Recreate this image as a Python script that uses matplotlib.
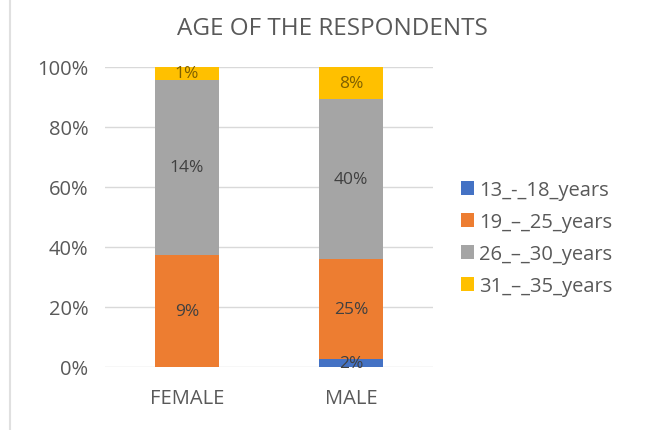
import numpy as np
import matplotlib.pyplot as plt
from matplotlib.lines import Line2D

# respondents by gender and age group (% of all respondents)
genders = ['FEMALE', 'MALE']
age_groups = ['13_-_18_years', '19_–_25_years', '26_–_30_years', '31_–_35_years']
age_13_18 = [0, 2]
age_19_25 = [9, 25]
age_26_30 = [14, 40]
age_31_35 = [1, 8]

colors = ['#4472C4', '#ED7D31', '#A5A5A5', '#FFC000']
label_colors = ['#404040', '#404040', '#404040', '#7F6000']
txt = '#595959'

plt.rcParams['font.family'] = ['Open Sans', 'DejaVu Sans']

series = np.array([age_13_18, age_19_25, age_26_30, age_31_35], dtype=float)
totals = series.sum(axis=0)
shares = series / totals * 100

fig = plt.figure(figsize=(6.48, 4.31), dpi=100)
ax = fig.add_axes([105/648, 1 - 368/431, 328/648, 300/431])

x = np.arange(len(genders))
bottom = np.zeros(len(genders))
for i, name in enumerate(age_groups):
    ax.bar(x, shares[i], 0.39, bottom=bottom, color=colors[i], label=name, zorder=2)
    for j in range(len(genders)):
        if series[i, j] > 0:
            ax.text(x[j], bottom[j] + shares[i, j] / 2, f'{series[i, j]:.0f}%',
                    ha='center', va='center', fontsize=12.5, color=label_colors[i], zorder=3)
    bottom += shares[i]

ax.set_xlim(-0.5, 1.5)
ax.set_ylim(0, 100)
ax.set_yticks(range(0, 101, 20))
ax.set_yticklabels([f'{v}%' for v in range(0, 101, 20)])
ax.set_xticks(x)
ax.set_xticklabels(genders)
ax.yaxis.grid(True, color='#D9D9D9', linewidth=1, zorder=0)
for s in ax.spines.values():
    s.set_visible(False)
ax.tick_params(axis='both', length=0, labelsize=14.5, colors=txt)
ax.tick_params(axis='y', pad=12)
ax.tick_params(axis='x', pad=15)

fig.text(332/648, 1 - 29/431, 'AGE OF THE RESPONDENTS', ha='center', va='center',
         fontsize=17.5, color=txt)

leg = ax.legend(loc='center left', bbox_to_anchor=(443/648, 1 - 239/431),
                bbox_transform=fig.transFigure, frameon=False, fontsize=14.5,
                handlelength=0.65, handleheight=0.65, handletextpad=0.25,
                labelspacing=0.6, labelcolor=txt)

# outer chart border on the left
fig.add_artist(Line2D([10/648, 10/648], [0, 1], color='#E0E0E0', linewidth=1.5,
                      transform=fig.transFigure))

fig.savefig('out.png', dpi=100)
